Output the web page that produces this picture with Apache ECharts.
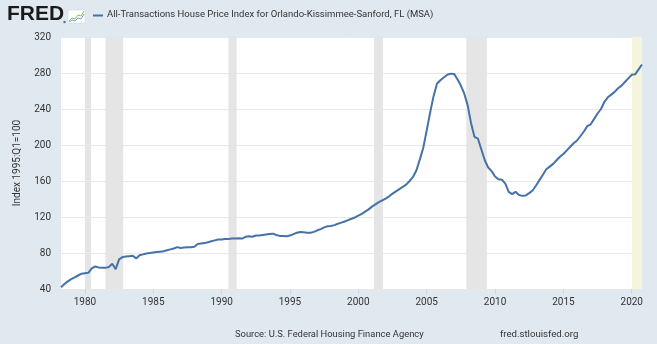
<!DOCTYPE html>
<html>
<head>
<meta charset="utf-8">
<script src="https://cdn.jsdelivr.net/npm/echarts@6/dist/echarts.min.js"></script>
<style>
html,body{margin:0;padding:0;background:#e1e9f0;}
#c{width:657px;height:344px;}
</style>
</head>
<body>
<div id="c"></div>
<script>
// Quarterly index values, 1978 Q2 .. 2020 Q4
const firstQuarter = 1978.25;
const values = [
  42, 45.5, 48.5,
  51, 53, 55, 57,
  57.5, 58, 63, 65,
  64, 63.5, 63.5, 64.5,
  68, 62, 73, 75.5,
  76, 76.5, 77, 74,
  77.5, 78.5, 79.5, 80,
  80.5, 81, 81.5, 82,
  83, 84, 85, 86.5,
  85.5, 86, 86.5, 86.5,
  87, 90, 90.5, 91,
  92, 93, 94, 95,
  95, 95.5, 95.5, 96,
  96, 96.5, 96, 98,
  98.5, 98, 99.5, 99.5,
  100, 100.5, 101, 101.5,
  100, 99, 98.8, 98.6,
  99.5, 101, 102.5, 103.3,
  103, 102.5, 102.6, 103.5,
  105.2, 106.5, 108.5, 109.7,
  110, 111, 112.5, 113.8,
  115, 116.5, 118, 119.5,
  121.5, 123.5, 126, 128.5,
  131.5, 134, 136.5, 138.5,
  140.5, 143, 146, 148.5,
  151, 153.5, 156, 160,
  164.5, 172, 184, 197,
  216, 236, 254, 268,
  272, 275, 278, 279.3,
  279, 273, 266, 257,
  244, 224, 209, 207,
  195, 183, 175, 171,
  165, 162, 161.5, 157,
  148, 145.5, 148, 144.5,
  143.5, 144, 146.5, 149.5,
  155, 161, 167, 173,
  176, 179, 183, 187,
  190, 194, 198, 202,
  205, 210, 215, 221,
  223, 229, 235, 240,
  248, 253, 256, 259,
  263, 266, 270, 274,
  278, 278.5, 284, 289.5
];
const xTickYears = [1980, 1985, 1990, 1995, 2000, 2005, 2010, 2015, 2020];
const recessions = [[1980.0, 1980.45], [1981.5, 1982.8], [1990.5, 1991.1], [2001.15, 2001.8], [2007.9, 2009.4]];
const highlight = [[2020.03, 2020.75]];
const xMin = 1978.25, xMax = 2020.75;
const yMin = 40, yMax = 320, yStep = 40;
const title = 'All-Transactions House Price Index for Orlando-Kissimmee-Sanford, FL (MSA)';
const yName = 'Index 1995:Q1=100';
const source = 'Source: U.S. Federal Housing Finance Agency';
const site = 'fred.stlouisfed.org';

const FONT = "Roboto, 'Liberation Sans', sans-serif";
const seriesData = values.map((v, i) => [firstQuarter + i * 0.25, v]);

const chart = echarts.init(document.getElementById('c'), null, {renderer: 'canvas'});
chart.setOption({
  backgroundColor: '#e1e9f0',
  animation: false,
  grid: {left: 61, right: 15, top: 37, bottom: 55, containLabel: false, show: true, backgroundColor: '#ffffff', borderWidth: 0},
  xAxis: {
    type: 'value', min: xMin, max: xMax,
    axisLine: {show: false},
    axisTick: {show: true, customValues: xTickYears, length: 5, lineStyle: {color: '#ccd6eb'}},
    axisLabel: {customValues: xTickYears, color: '#333', fontFamily: FONT, fontSize: 10, margin: 8, formatter: v => String(Math.round(v))},
    splitLine: {show: false}
  },
  yAxis: {
    type: 'value', min: yMin, max: yMax, interval: yStep,
    axisLine: {show: false}, axisTick: {show: false},
    axisLabel: {color: '#333', fontFamily: FONT, fontSize: 10, margin: 10},
    splitLine: {lineStyle: {color: '#e8e8e8', width: 1}}
  },
  series: [{
    type: 'line', data: seriesData, showSymbol: false, symbol: 'none',
    lineStyle: {color: '#4572a7', width: 2},
    z: 3,
    markArea: {
      silent: true,
      data: recessions.map(r => [{xAxis: r[0], itemStyle: {color: '#e5e5e5'}}, {xAxis: r[1]}])
        .concat(highlight.map(r => [{xAxis: r[0], itemStyle: {color: '#f6f4dc'}}, {xAxis: r[1]}]))
    }
  }],
  graphic: [
    {type: 'text', left: 7, top: 4, style: {text: 'FRED', font: "bold 21px 'Liberation Sans', Arial, sans-serif", fill: '#1b1b1b'}},
    {type: 'circle', shape: {cx: 64.5, cy: 22, r: 1.2}, style: {fill: '#4572a7'}},
    {type: 'rect', shape: {x: 68, y: 10, width: 17, height: 13}, style: {fill: '#ffffff', stroke: '#c8d3dc', lineWidth: 0.5}},
    {type: 'polyline', shape: {points: [[69, 21], [72, 18], [75, 19], [78, 15], [81, 16], [84, 11]]}, style: {stroke: '#8bbf5a', lineWidth: 1, fill: null}},
    {type: 'polyline', shape: {points: [[69, 22], [72, 20], [75, 21], [78, 18], [81, 19], [84, 14]]}, style: {stroke: '#7aa3cf', lineWidth: 1, fill: null}},
    {type: 'line', shape: {x1: 93, y1: 15.5, x2: 103, y2: 15.5}, style: {stroke: '#4572a7', lineWidth: 2}},
    {type: 'text', left: 107, top: 10, style: {text: title, font: "9.5px " + FONT, fill: '#333'}},
    {type: 'text', x: 17, y: 163, rotation: Math.PI / 2, style: {text: yName, font: "10px " + FONT, fill: '#333', align: 'center', verticalAlign: 'middle'}},
    {type: 'text', left: 235, top: 330, style: {text: source, font: "9.4px " + FONT, fill: '#333'}},
    {type: 'text', left: 500, top: 330, style: {text: site, font: "9.6px " + FONT, fill: '#333'}}
  ]
});
</script>
</body>
</html>
